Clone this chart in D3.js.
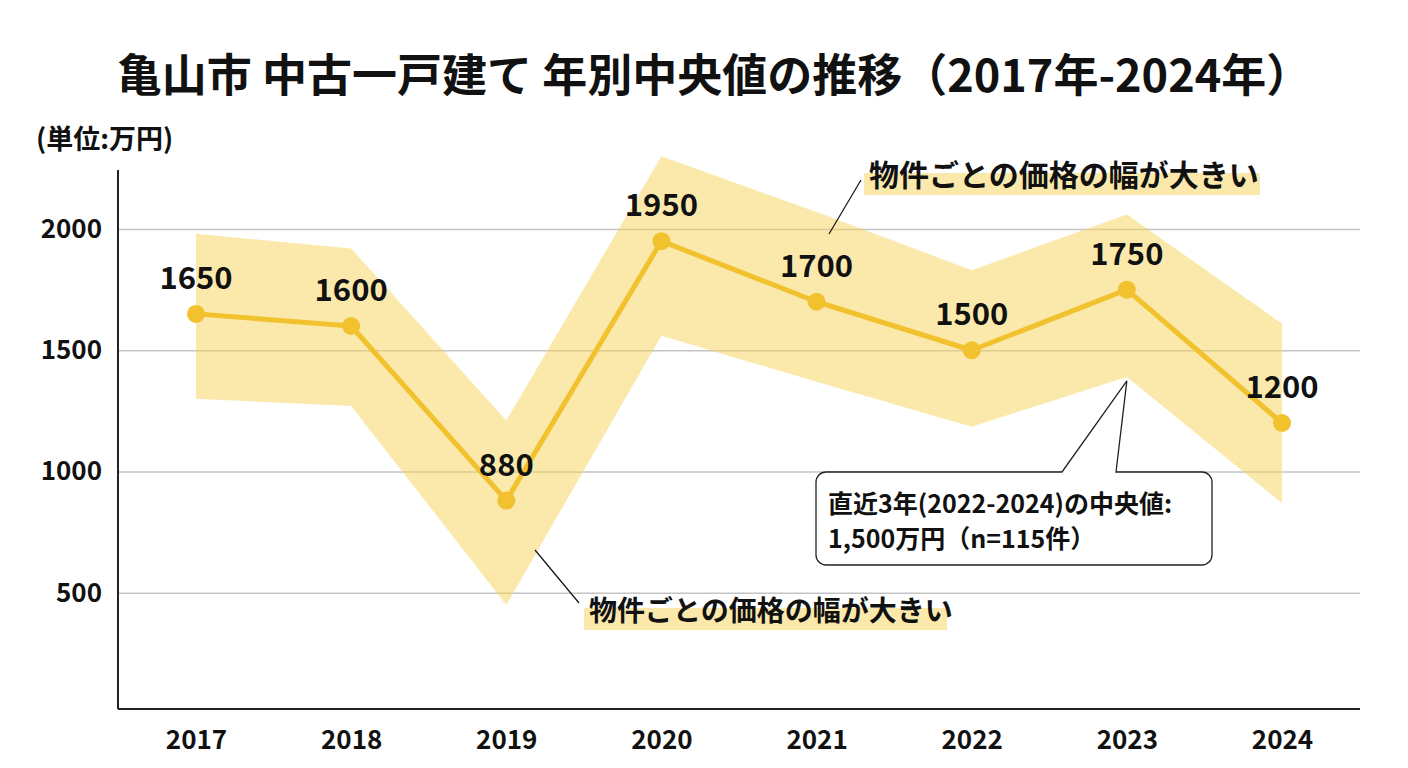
<!DOCTYPE html>
<html>
<head>
<meta charset="utf-8">
<script src="https://cdn.jsdelivr.net/npm/d3@7"></script>
<style>
  body { margin: 0; background: #fff; }
  svg { display: block; font-family: "Noto Sans CJK JP", "Noto Sans", sans-serif; }
</style>
</head>
<body>
<div id="chart"></div>
<script>
const years = [2017, 2018, 2019, 2020, 2021, 2022, 2023, 2024];
const medians = [1650, 1600, 880, 1950, 1700, 1500, 1750, 1200];
const upperRange = [1980, 1920, 1210, 2300, 2070, 1830, 2060, 1610];
const lowerRange = [1300, 1270, 450, 1560, 1370, 1185, 1390, 870];
const yTicks = [500, 1000, 1500, 2000];

const titleText = "亀山市 中古一戸建て 年別中央値の推移（2017年-2024年）";
const unitText = "(単位:万円)";
const spreadNote = "物件ごとの価格の幅が大きい";
const calloutLines = ["直近3年(2022-2024)の中央値:", "1,500万円（n=115件）"];

const width = 1408, height = 768;
const lineColor = "#F2C12E";
const bandColor = "#F7D35A";

const svg = d3.select("#chart").append("svg")
  .attr("width", width)
  .attr("height", height);

const x = d3.scalePoint().domain(years).range([196, 1282]);
const y = d3.scaleLinear().domain([0, 2000]).range([714, 229]);
const plotLeft = 118, plotRight = 1360, plotBottom = 709, plotTop = 170;

// title + unit
svg.append("text")
  .attr("x", 714).attr("y", 92)
  .attr("text-anchor", "middle")
  .attr("font-size", 45).attr("font-weight", 700)
  .attr("fill", "#111")
  .text(titleText);

svg.append("text")
  .attr("x", 36).attr("y", 149)
  .attr("font-size", 27).attr("font-weight", 700)
  .attr("fill", "#111")
  .text(unitText);

// grid
const grid = svg.append("g")
  .attr("transform", `translate(${plotLeft},0)`)
  .call(d3.axisLeft(y).tickValues(yTicks).tickSize(-(plotRight - plotLeft)).tickFormat(""));
grid.select(".domain").remove();
grid.selectAll("line").attr("stroke", "#c4c4c4").attr("stroke-width", 1.5);

// range band
const rows = years.map((yr, i) => ({ yr, med: medians[i], hi: upperRange[i], lo: lowerRange[i] }));
const band = d3.area()
  .x(d => x(d.yr))
  .y0(d => y(d.lo))
  .y1(d => y(d.hi));
svg.append("path")
  .datum(rows)
  .attr("d", band)
  .attr("fill", bandColor)
  .attr("fill-opacity", 0.5);

// y labels
const yAxis = svg.append("g")
  .attr("transform", `translate(${plotLeft},0)`)
  .call(d3.axisLeft(y).tickValues(yTicks).tickSize(0).tickPadding(16).tickFormat(d3.format("d")));
yAxis.select(".domain").remove();
yAxis.selectAll("text")
  .attr("font-size", 26).attr("font-weight", 700)
  .attr("font-family", "'Noto Sans CJK JP', sans-serif")
  .attr("fill", "#111");

// x labels
const xAxis = svg.append("g")
  .attr("transform", `translate(0,${plotBottom})`)
  .call(d3.axisBottom(x).tickSize(0).tickPadding(22).tickFormat(d3.format("d")));
xAxis.select(".domain").remove();
xAxis.selectAll("text")
  .attr("font-size", 26).attr("font-weight", 700)
  .attr("font-family", "'Noto Sans CJK JP', sans-serif")
  .attr("fill", "#111");

// axis lines
svg.append("line")
  .attr("x1", plotLeft).attr("x2", plotLeft).attr("y1", plotTop).attr("y2", plotBottom)
  .attr("stroke", "#222").attr("stroke-width", 2);
svg.append("line")
  .attr("x1", plotLeft).attr("x2", plotRight).attr("y1", plotBottom).attr("y2", plotBottom)
  .attr("stroke", "#222").attr("stroke-width", 2);

// median line
svg.append("path")
  .datum(rows)
  .attr("d", d3.line().x(d => x(d.yr)).y(d => y(d.med)))
  .attr("fill", "none")
  .attr("stroke", lineColor)
  .attr("stroke-width", 5)
  .attr("stroke-linejoin", "round");

svg.append("g").selectAll("circle")
  .data(rows).join("circle")
  .attr("cx", d => x(d.yr))
  .attr("cy", d => y(d.med))
  .attr("r", 9)
  .attr("fill", lineColor);

svg.append("g").selectAll("text")
  .data(rows).join("text")
  .attr("x", d => x(d.yr))
  .attr("y", d => y(d.med) - 25)
  .attr("text-anchor", "middle")
  .attr("font-size", 31).attr("font-weight", 700)
  .attr("fill", "#111")
  .text(d => d.med);

// "wide spread" notes
function note(tx, ty, fs, boxW, lx1, ly1, lx2, ly2) {
  svg.append("rect")
    .attr("x", tx - 5).attr("y", ty - 13)
    .attr("width", boxW).attr("height", 22)
    .attr("fill", bandColor).attr("fill-opacity", 0.5);
  svg.append("text")
    .attr("x", tx).attr("y", ty)
    .attr("font-size", fs).attr("font-weight", 700)
    .attr("fill", "#111")
    .text(spreadNote);
  svg.append("line")
    .attr("x1", lx1).attr("y1", ly1).attr("x2", lx2).attr("y2", ly2)
    .attr("stroke", "#111").attr("stroke-width", 1.2);
}
note(869, 186, 30, 396, 861, 180, 829, 234);
note(589, 621, 28, 363, 535, 550, 579, 603);

// callout box
const apexX = x(2023), apexY = y(lowerRange[6]) + 4;
const bx0 = 816, by0 = 472, bx1 = 1212, by1 = 565, r = 10;
const calloutPath = d3.path();
calloutPath.moveTo(bx0 + r, by0);
calloutPath.lineTo(1062, by0);
calloutPath.lineTo(apexX, apexY);
calloutPath.lineTo(1116, by0);
calloutPath.lineTo(bx1 - r, by0);
calloutPath.arcTo(bx1, by0, bx1, by0 + r, r);
calloutPath.lineTo(bx1, by1 - r);
calloutPath.arcTo(bx1, by1, bx1 - r, by1, r);
calloutPath.lineTo(bx0 + r, by1);
calloutPath.arcTo(bx0, by1, bx0, by1 - r, r);
calloutPath.lineTo(bx0, by0 + r);
calloutPath.arcTo(bx0, by0, bx0 + r, by0, r);
calloutPath.closePath();
svg.append("path")
  .attr("d", calloutPath.toString())
  .attr("fill", "#fff")
  .attr("stroke", "#222")
  .attr("stroke-width", 1.3);

svg.append("g").selectAll("text")
  .data(calloutLines).join("text")
  .attr("x", 828)
  .attr("y", (d, i) => 513 + i * 35)
  .attr("font-size", 25).attr("font-weight", 700)
  .attr("fill", "#111")
  .text(d => d);
</script>
</body>
</html>
